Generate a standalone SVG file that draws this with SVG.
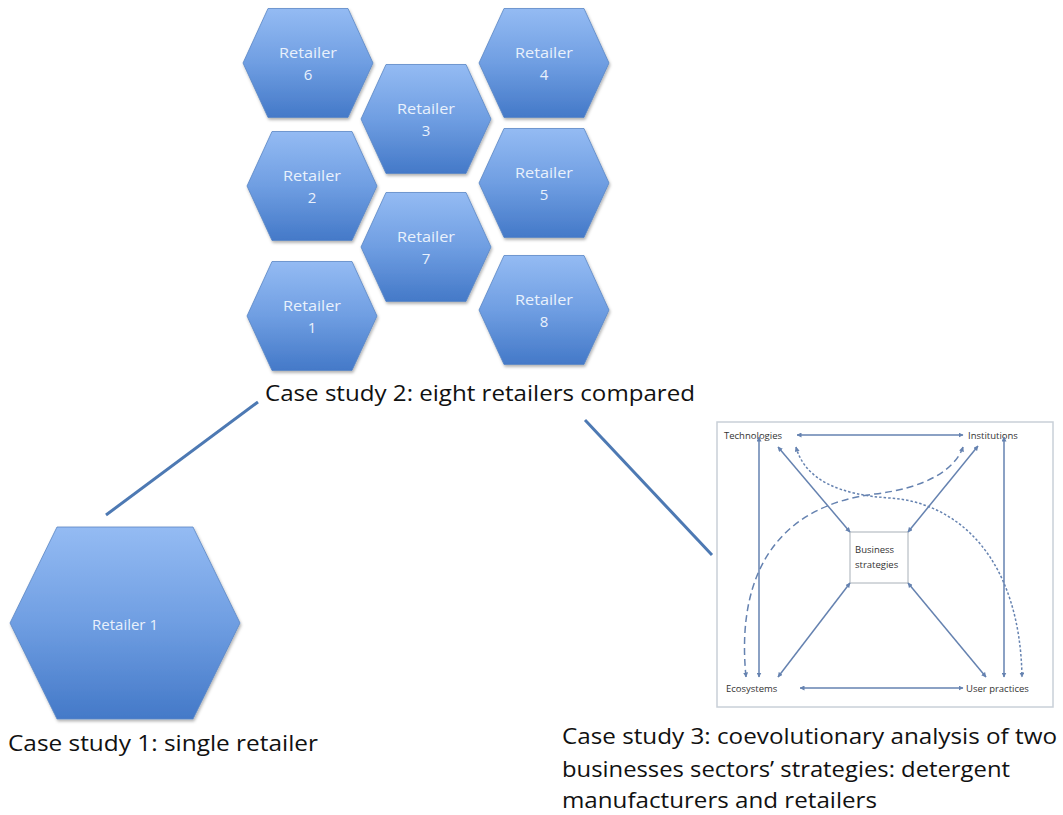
<svg xmlns="http://www.w3.org/2000/svg" width="1063" height="815" viewBox="0 0 1063 815">
<defs>
<linearGradient id="hg" x1="0" y1="0" x2="0" y2="1">
<stop offset="0" stop-color="#94bbf3"/>
<stop offset="0.5" stop-color="#6f9ee2"/>
<stop offset="1" stop-color="#4479c8"/>
</linearGradient>
<filter id="sh" x="-10%" y="-10%" width="125%" height="125%">
<feDropShadow dx="1" dy="2" stdDeviation="1.5" flood-color="#000" flood-opacity="0.3"/>
</filter>
<marker id="ah" viewBox="0 0 10 10" refX="9" refY="5" markerWidth="5" markerHeight="5" orient="auto-start-reverse" markerUnits="userSpaceOnUse">
<path d="M0,0 L10,5 L0,10 Z" fill="#6582b0"/>
</marker>
<style>
.hex{fill:url(#hg);stroke:#5b86c4;stroke-width:0.8;filter:url(#sh)}
.ht{font-family:"Open Sans","Liberation Sans",sans-serif;font-size:15px;fill:#e9f1fc;text-anchor:middle}
.cap{font-family:"Open Sans","Liberation Sans",sans-serif;font-size:21px;fill:#111}
.link{stroke:#4d79b3;stroke-width:3;fill:none}
.ar{stroke:#6582b0;stroke-width:1.5;fill:none;marker-start:url(#ah);marker-end:url(#ah)}
.dt{font-family:"Open Sans","Liberation Sans",sans-serif;font-size:9.5px;fill:#333}
</style>
</defs>
<rect width="1063" height="815" fill="#fff"/>

<g id="connectors">
<line class="link" x1="106" y1="515" x2="258" y2="402"/>
<line class="link" x1="585" y1="420" x2="712" y2="555"/>
</g>

<g id="retailer6"><path class="hex" d="M243,63 L268,8.5 L348,8.5 L373,63 L348,117.5 L268,117.5 Z"/><text class="ht" x="308" y="58" textLength="58" lengthAdjust="spacingAndGlyphs">Retailer</text><text class="ht" x="308" y="80">6</text></g>
<g id="retailer4"><path class="hex" d="M479,63 L504,8.5 L584,8.5 L609,63 L584,117.5 L504,117.5 Z"/><text class="ht" x="544" y="58" textLength="58" lengthAdjust="spacingAndGlyphs">Retailer</text><text class="ht" x="544" y="80">4</text></g>
<g id="retailer3"><path class="hex" d="M361,119 L386,64.5 L466,64.5 L491,119 L466,173.5 L386,173.5 Z"/><text class="ht" x="426" y="114" textLength="58" lengthAdjust="spacingAndGlyphs">Retailer</text><text class="ht" x="426" y="136">3</text></g>
<g id="retailer2"><path class="hex" d="M247,186 L272,131.5 L352,131.5 L377,186 L352,240.5 L272,240.5 Z"/><text class="ht" x="312" y="181" textLength="58" lengthAdjust="spacingAndGlyphs">Retailer</text><text class="ht" x="312" y="203">2</text></g>
<g id="retailer5"><path class="hex" d="M479,183 L504,128.5 L584,128.5 L609,183 L584,237.5 L504,237.5 Z"/><text class="ht" x="544" y="178" textLength="58" lengthAdjust="spacingAndGlyphs">Retailer</text><text class="ht" x="544" y="200">5</text></g>
<g id="retailer7"><path class="hex" d="M361,247 L386,192.5 L466,192.5 L491,247 L466,301.5 L386,301.5 Z"/><text class="ht" x="426" y="242" textLength="58" lengthAdjust="spacingAndGlyphs">Retailer</text><text class="ht" x="426" y="264">7</text></g>
<g id="retailer1"><path class="hex" d="M247,316 L272,261.5 L352,261.5 L377,316 L352,370.5 L272,370.5 Z"/><text class="ht" x="312" y="311" textLength="58" lengthAdjust="spacingAndGlyphs">Retailer</text><text class="ht" x="312" y="333">1</text></g>
<g id="retailer8"><path class="hex" d="M479,310 L504,255.5 L584,255.5 L609,310 L584,364.5 L504,364.5 Z"/><text class="ht" x="544" y="305" textLength="58" lengthAdjust="spacingAndGlyphs">Retailer</text><text class="ht" x="544" y="327">8</text></g>

<g id="caption2"><text class="cap" x="265" y="401" textLength="430" lengthAdjust="spacingAndGlyphs">Case study 2: eight retailers compared</text></g>

<g id="big-retailer1"><path class="hex" d="M10,623 L57,527 L193,527 L240,623 L193,719 L57,719 Z"/><text class="ht" x="125" y="630" font-size="16">Retailer 1</text></g>

<g id="caption1"><text class="cap" x="8" y="751" textLength="310" lengthAdjust="spacingAndGlyphs">Case study 1: single retailer</text></g>

<g id="coevolution">
<rect x="717" y="422" width="336" height="285" fill="#fff" stroke="#c9d0d8" stroke-width="1.5"/>
<g id="business-strategies"><rect x="850" y="532" width="58" height="51" fill="#fff" stroke="#a8b0b8" stroke-width="1"/>
<text class="dt" x="855" y="553">Business</text><text class="dt" x="855" y="568">strategies</text></g>
<g id="technologies"><text class="dt" x="724" y="439">Technologies</text></g>
<g id="institutions"><text class="dt" x="968" y="439">Institutions</text></g>
<g id="ecosystems"><text class="dt" x="726" y="692">Ecosystems</text></g>
<g id="user-practices"><text class="dt" x="966" y="692">User practices</text></g>
<g id="arrows">
<line class="ar" x1="797" y1="435" x2="963" y2="435"/>
<line class="ar" x1="800" y1="688" x2="963" y2="688"/>
<line class="ar" x1="759" y1="437" x2="759" y2="677"/>
<line class="ar" x1="1004" y1="437" x2="1004" y2="677"/>
<line class="ar" x1="778" y1="447" x2="850" y2="532"/>
<line class="ar" x1="978" y1="446" x2="908" y2="532"/>
<line class="ar" x1="778" y1="677" x2="850" y2="583"/>
<line class="ar" x1="986" y1="677" x2="908" y2="583"/>
<path class="ar" stroke-dasharray="7,4" d="M746,677 C735,565 785,505 875,494 C925,488 955,470 963,447"/>
<path class="ar" stroke-dasharray="2.5,2" d="M796,447 C805,480 840,495 890,498 C960,503 1020,560 1022,677"/>
</g>
</g>

<g id="caption3">
<text class="cap" x="562" y="744" textLength="495" lengthAdjust="spacingAndGlyphs">Case study 3: coevolutionary analysis of two</text>
<text class="cap" x="562" y="777" textLength="448" lengthAdjust="spacingAndGlyphs">businesses sectors’ strategies: detergent</text>
<text class="cap" x="562" y="808" textLength="315" lengthAdjust="spacingAndGlyphs">manufacturers and retailers</text>
</g>
</svg>
